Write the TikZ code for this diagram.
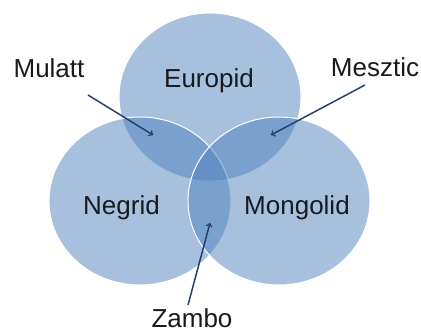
\documentclass[tikz,border=0pt]{standalone}
\usepackage{fontspec}
\setmainfont{Liberation Sans}
\usepackage{xcolor}
\usepackage{tikz}

\definecolor{vennblue}{RGB}{79,129,189}
\definecolor{arrowblue}{RGB}{38,64,110}
\definecolor{txtgray}{RGB}{25,25,30}

\tikzset{
    race/.style={fill=vennblue, fill opacity=0.5, draw=white, line width=1pt},
    txt/.style={text=txtgray, anchor=base, inner sep=0pt, font=\fontsize{26}{30}\selectfont},
    pointer/.style={->, draw=arrowblue, line width=1.5pt}
}

\begin{document}
\begin{tikzpicture}[x=1pt, y=-1pt]
        \useasboundingbox (0,0) rectangle (421,334);
        \coordinate (europidC) at (210,97);
        \coordinate (negridC) at (140,201);
        \coordinate (mongolidC) at (279,201);
        \path[race] (europidC) ellipse [x radius=91, y radius=84];
        \path[race] (negridC) ellipse [x radius=91, y radius=84];
        \path[race] (mongolidC) ellipse [x radius=91, y radius=84];
        \node[txt] (europid) at (209,88) {Europid};
        \node[txt] (negrid) at (121.5,215) {Negrid};
        \node[txt] (mongolid) at (297,215) {Mongolid};
        \node[txt] (mulatt) at (49,78) {Mulatt};
        \node[txt] (mesztic) at (375,77) {Mesztic};
        \node[txt] (zambo) at (192,327) {Zambo};
        \coordinate (mulattTail) at (88,95);
        \coordinate (mulattTip) at (153,135);
        \coordinate (meszticTail) at (365,85);
        \coordinate (meszticTip) at (271,135);
        \coordinate (zamboTail) at (188,305);
        \coordinate (zamboTip) at (210,223);
        \draw[pointer] (mulattTail) -- (mulattTip);
        \draw[pointer] (meszticTail) -- (meszticTip);
        \draw[pointer] (zamboTail) -- (zamboTip);
    \end{tikzpicture}
\end{document}
